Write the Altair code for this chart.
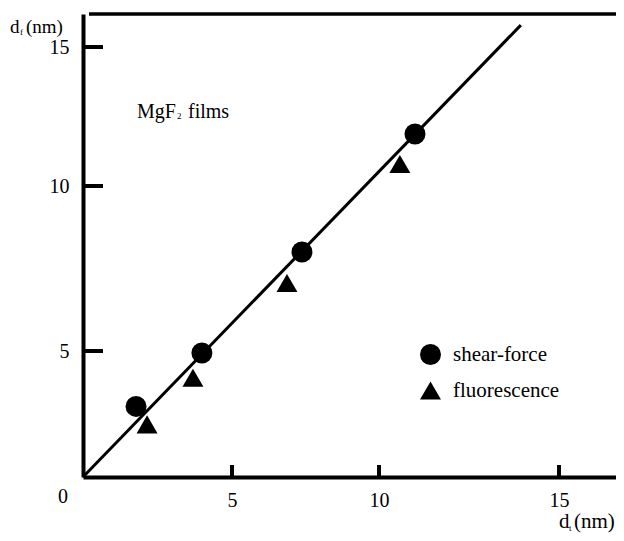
import altair as alt
import pandas as pd

# ---- data ----
series = ["shear-force", "fluorescence"]
shear_dt = [1.78, 3.99, 7.38, 11.0]
shear_df = [2.80, 4.92, 8.0, 11.87]
fluo_dt = [2.15, 3.69, 6.87, 10.58]
fluo_df = [2.09, 3.94, 7.06, 10.79]
fit_dt = [0, 13.94]
fit_df = [0, 15.79]
tick_values = [5, 10, 15]

pts = pd.DataFrame({
    "dt": shear_dt + fluo_dt,
    "df": shear_df + fluo_df,
    "series": [series[0]] * len(shear_dt) + [series[1]] * len(fluo_dt),
})
fit = pd.DataFrame({"dt": fit_dt, "df": fit_df})
ticks = pd.DataFrame({"v": tick_values})

W, H = 533, 463
FONT = "Liberation Serif, Times New Roman, Times, serif"

# the scanned figure's axes are slightly non-uniform: piecewise linear scales
x_scale = alt.Scale(domain=[0, 5, 10, 15, 16.58], range=[0, 149, 296, 476, W], nice=False, zero=False)
y_scale = alt.Scale(domain=[0, 5, 10, 15, 16.19], range=[H, 337, 172, 33, 0], nice=False, zero=False)

x_axis = alt.Axis(values=tick_values, title=None, ticks=False, tickSize=0, labelPadding=13,
                  labelFont=FONT, labelFontSize=20, labelColor="black", labelAngle=0,
                  domainColor="black", domainWidth=4, grid=False)
y_axis = alt.Axis(values=tick_values, title=None, ticks=False, tickSize=0, labelPadding=14,
                  labelFont=FONT, labelFontSize=20, labelColor="black",
                  domainColor="black", domainWidth=4, grid=False)

X = lambda f: alt.X(f, scale=x_scale, axis=x_axis)
Y = lambda f: alt.Y(f, scale=y_scale, axis=y_axis)

line = alt.Chart(fit).mark_line(color="black", strokeWidth=3).encode(
    x=X("dt:Q"), y=Y("df:Q"))

points = alt.Chart(pts).mark_point(filled=True, opacity=1, color="black", size=440).encode(
    x=X("dt:Q"), y=Y("df:Q"),
    shape=alt.Shape("series:N",
                    scale=alt.Scale(domain=series, range=["circle", "triangle-up"]),
                    legend=alt.Legend(title=None, orient="none", legendX=337, legendY=330,
                                      direction="vertical", symbolSize=440,
                                      symbolFillColor="black", symbolStrokeWidth=0,
                                      symbolOpacity=1, labelFont=FONT, labelFontSize=21,
                                      labelColor="black", labelOffset=12, rowPadding=14,
                                      padding=0)))

xticks = alt.Chart(ticks).mark_rule(color="black", strokeWidth=4).encode(
    x=X("v:Q"), y=alt.value(H), y2=alt.value(H - 12))
yticks = alt.Chart(ticks).mark_rule(color="black", strokeWidth=4).encode(
    y=Y("v:Q"), x=alt.value(0), x2=alt.value(20))
topline = alt.Chart(alt.Data(values=[{}])).mark_rule(color="black", strokeWidth=3.5).encode(
    x=alt.value(6), x2=alt.value(W), y=alt.value(0))


def txt(s, x, y, size=20, align="left", baseline="alphabetic"):
    return alt.Chart(alt.Data(values=[{}])).mark_text(
        text=s, font=FONT, fontSize=size, color="black", align=align, baseline=baseline
    ).encode(x=alt.value(x), y=alt.value(y))


texts = [
    txt("0", -20, 483, baseline="middle", align="center"),
    txt("d", -73, 19, size=19),
    txt("f", -63, 21, size=9),
    txt("(nm)", -57, 19, size=19),
    txt("d", 476, 514, size=21),
    txt("t", 486, 517, size=9),
    txt("(nm)", 491, 514, size=21),
    txt("MgF", 54, 104),
    txt("2", 94, 105, size=9),
    txt("films", 105, 104),
]

chart = alt.layer(line, points, xticks, yticks, topline, *texts).properties(
    width=W, height=H,
    padding={"left": 75, "top": 6, "right": 0, "bottom": 56},
    autosize=alt.AutoSizeParams(type="none"),
    background="white",
).configure_view(strokeWidth=0)

chart.save("out.html", embed_options={"renderer": "svg", "actions": False})
